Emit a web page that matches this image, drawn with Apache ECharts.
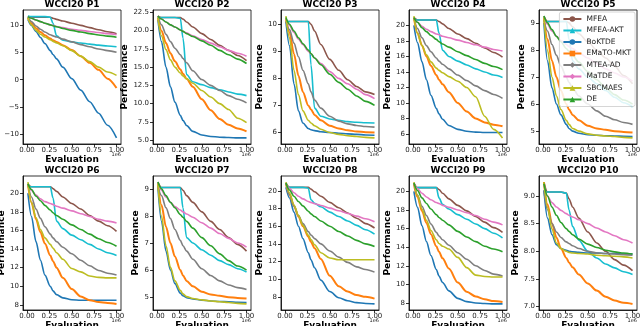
<!DOCTYPE html>
<html>
<head>
<meta charset="UTF-8">
<title>WCCI20</title>
<script src="https://cdn.jsdelivr.net/npm/echarts@6/dist/echarts.min.js"></script>
<style>
html, body { margin: 0; padding: 0; background: #fff; overflow: hidden; }
#main { width: 640px; height: 326px; }
</style>
</head>
<body>
<div id="main"></div>
<script>
// evaluation points (x 1e6)
var evals = [0.01, 0.05, 0.1, 0.15, 0.2, 0.26, 0.29, 0.33, 0.4, 0.5, 0.6, 0.7, 0.8, 0.9, 1.0];
var methods = ['MFEA', 'MFEA-AKT', 'BoKTDE', 'EMaTO-MKT', 'MTEA-AD', 'MaTDE', 'SBCMAES', 'DE'];
var titles = ['WCCI20 P1', 'WCCI20 P2', 'WCCI20 P3', 'WCCI20 P4', 'WCCI20 P5',
              'WCCI20 P6', 'WCCI20 P7', 'WCCI20 P8', 'WCCI20 P9', 'WCCI20 P10'];
var xTicks = [0, 0.25, 0.5, 0.75, 1.0];
var yTicks = [
  [-10, -5, 0, 5, 10],
  [5, 7.5, 10, 12.5, 15, 17.5, 20, 22.5],
  [6, 7, 8, 9, 10],
  [6, 8, 10, 12, 14, 16, 18, 20],
  [5, 6, 7, 8, 9],
  [8, 10, 12, 14, 16, 18, 20],
  [5, 6, 7, 8, 9],
  [8, 10, 12, 14, 16, 18, 20],
  [8, 10, 12, 14, 16, 18, 20],
  [7, 7.5, 8, 8.5, 9]
];

// rows follow the order of methods
var p1 = [
  [11.5, 11.4, 11.4, 11.4, 11.4, 11.4, 11.2, 11.0, 10.7, 10.3, 9.9, 9.5, 9.1, 8.75, 8.4],
  [11.6, 11.5, 11.5, 11.5, 11.5, 11.4, 10.3, 8.0, 7.2, 6.9, 6.7, 6.5, 6.3, 6.15, 6.0],
  [11.0, 9.9, 8.8, 7.7, 6.6, 5.3, 4.6, 3.8, 2.3, 0.2, -1.9, -4.0, -6.1, -8.3, -10.6],
  [11.3, 10.3, 9.4, 8.7, 8.1, 7.5, 7.2, 6.9, 6.3, 5.4, 4.3, 3.1, 1.8, 0.2, -1.5],
  [11.5, 10.6, 9.8, 9.2, 8.7, 8.2, 8.0, 7.8, 7.4, 6.9, 6.4, 6.0, 5.6, 5.3, 5.0],
  [11.5, 11.2, 10.9, 10.6, 10.3, 10.0, 9.9, 9.7, 9.5, 9.2, 9.0, 8.8, 8.6, 8.4, 8.2],
  [11.3, 10.0, 9.0, 8.3, 7.8, 7.3, 7.0, 6.7, 6.2, 5.3, 4.3, 3.3, 2.3, 1.4, 0.8],
  [11.5, 11.2, 10.9, 10.6, 10.3, 10.0, 9.85, 9.65, 9.35, 9.0, 8.7, 8.4, 8.15, 7.95, 7.75]
];
var p2 = [
  [22.0, 21.8, 21.8, 21.8, 21.8, 21.8, 21.6, 21.2, 20.5, 19.6, 18.8, 18.0, 17.3, 16.6, 15.9],
  [21.8, 21.8, 21.8, 21.8, 21.8, 21.7, 19.0, 14.0, 13.0, 12.6, 12.2, 11.9, 11.6, 11.3, 11.1],
  [21.5, 18.5, 15.0, 12.3, 10.2, 8.4, 7.7, 7.0, 6.2, 5.7, 5.5, 5.4, 5.35, 5.3, 5.3],
  [21.8, 20.0, 18.3, 16.9, 15.8, 14.7, 14.1, 13.4, 12.3, 10.6, 9.1, 7.9, 7.1, 6.6, 6.2],
  [22.0, 20.8, 19.5, 18.5, 17.6, 16.7, 16.2, 15.6, 14.5, 13.3, 12.5, 11.8, 11.1, 10.6, 10.1],
  [22.0, 21.6, 21.2, 20.8, 20.5, 20.1, 19.9, 19.7, 19.3, 18.8, 18.3, 17.8, 17.3, 16.9, 16.5],
  [21.8, 19.3, 17.4, 16.0, 15.0, 14.2, 13.8, 13.4, 12.8, 11.8, 10.9, 10.0, 9.2, 8.0, 7.4],
  [22.0, 21.6, 21.2, 20.8, 20.5, 20.1, 19.9, 19.6, 19.2, 18.6, 18.0, 17.3, 16.7, 16.1, 15.5]
];
var p3 = [
  [10.1, 10.1, 10.1, 10.1, 10.1, 10.1, 10.0, 9.75, 9.25, 8.7, 8.3, 7.95, 7.7, 7.5, 7.4],
  [10.1, 10.1, 10.1, 10.1, 10.1, 10.1, 8.5, 6.9, 6.6, 6.5, 6.45, 6.4, 6.38, 6.36, 6.35],
  [10.1, 9.2, 7.8, 6.8, 6.35, 6.15, 6.1, 6.07, 6.03, 6.0, 5.97, 5.95, 5.93, 5.91, 5.9],
  [10.2, 9.7, 8.9, 8.1, 7.5, 7.0, 6.85, 6.65, 6.45, 6.25, 6.15, 6.08, 6.04, 6.01, 6.0],
  [10.1, 9.8, 9.3, 8.8, 8.3, 7.8, 7.5, 7.2, 6.9, 6.6, 6.42, 6.32, 6.26, 6.22, 6.2],
  [10.2, 9.95, 9.7, 9.45, 9.25, 9.0, 8.9, 8.75, 8.55, 8.25, 8.0, 7.8, 7.6, 7.4, 7.25],
  [10.3, 9.5, 8.3, 7.4, 6.8, 6.45, 6.35, 6.25, 6.12, 6.0, 5.93, 5.88, 5.85, 5.82, 5.8],
  [10.25, 10.0, 9.75, 9.5, 9.28, 9.05, 8.92, 8.75, 8.5, 8.15, 7.85, 7.6, 7.35, 7.15, 7.0]
];
var p4 = [
  [21.0, 20.7, 20.7, 20.7, 20.7, 20.7, 20.5, 20.2, 19.6, 18.9, 18.3, 17.7, 17.1, 16.5, 15.9],
  [20.7, 20.7, 20.7, 20.7, 20.7, 20.7, 19.0, 16.8, 16.0, 15.4, 14.9, 14.4, 14.0, 13.6, 13.3],
  [20.0, 17.8, 15.3, 13.0, 11.0, 9.3, 8.6, 7.9, 7.1, 6.6, 6.35, 6.25, 6.2, 6.2, 6.2],
  [21.0, 19.0, 17.4, 16.0, 14.8, 13.6, 13.0, 12.4, 11.4, 10.0, 8.9, 8.0, 7.5, 7.2, 7.0],
  [21.0, 19.6, 18.4, 17.4, 16.6, 15.8, 15.4, 15.0, 14.4, 13.6, 12.9, 12.2, 11.6, 11.1, 10.6],
  [21.0, 20.4, 19.9, 19.5, 19.2, 18.9, 18.8, 18.6, 18.4, 18.1, 17.8, 17.5, 17.2, 16.9, 16.7],
  [21.2, 19.0, 17.4, 16.2, 15.3, 14.5, 14.2, 13.9, 13.4, 12.8, 12.0, 10.8, 8.3, 6.6, 5.5],
  [21.0, 20.4, 19.7, 19.2, 18.7, 18.2, 17.9, 17.6, 17.2, 16.6, 16.1, 15.6, 15.1, 14.7, 14.3]
];
var p5 = [
  [9.25, 9.05, 9.05, 9.05, 9.05, 9.05, 9.0, 8.85, 8.6, 8.3, 8.0, 7.7, 7.4, 7.05, 6.75],
  [9.05, 9.05, 9.05, 9.05, 9.05, 9.05, 8.4, 7.6, 7.3, 7.0, 6.75, 6.5, 6.25, 6.05, 5.9],
  [9.0, 7.6, 6.6, 6.0, 5.6, 5.25, 5.1, 5.0, 4.92, 4.87, 4.85, 4.83, 4.82, 4.81, 4.8],
  [9.2, 8.4, 7.6, 7.0, 6.5, 6.0, 5.8, 5.6, 5.4, 5.2, 5.1, 5.05, 5.0, 4.97, 4.95],
  [9.1, 8.7, 8.2, 7.8, 7.4, 7.0, 6.8, 6.6, 6.3, 6.0, 5.75, 5.55, 5.42, 5.32, 5.25],
  [9.2, 8.95, 8.7, 8.5, 8.35, 8.2, 8.12, 8.05, 7.9, 7.7, 7.5, 7.3, 7.15, 7.0, 6.85],
  [9.2, 8.0, 7.0, 6.3, 5.8, 5.4, 5.25, 5.1, 5.0, 4.9, 4.85, 4.82, 4.8, 4.77, 4.75],
  [9.25, 9.0, 8.75, 8.5, 8.3, 8.05, 7.95, 7.8, 7.55, 7.2, 6.9, 6.6, 6.35, 6.15, 6.0]
];
var p6 = [
  [21.0, 20.7, 20.7, 20.7, 20.7, 20.7, 20.5, 20.2, 19.6, 18.9, 18.3, 17.6, 17.0, 16.5, 15.9],
  [20.7, 20.7, 20.7, 20.7, 20.7, 20.7, 19.5, 17.0, 16.2, 15.5, 15.0, 14.5, 14.0, 13.6, 13.3],
  [20.0, 17.5, 14.8, 12.8, 11.2, 10.0, 9.5, 9.1, 8.75, 8.55, 8.5, 8.5, 8.5, 8.5, 8.5],
  [21.0, 19.0, 17.2, 15.8, 14.6, 13.3, 12.7, 12.0, 10.9, 9.7, 8.9, 8.5, 8.3, 8.2, 8.1],
  [21.0, 19.6, 18.3, 17.3, 16.4, 15.6, 15.2, 14.8, 14.2, 13.5, 12.8, 12.2, 11.7, 11.4, 11.2],
  [21.0, 20.3, 19.8, 19.4, 19.1, 18.9, 18.8, 18.6, 18.4, 18.1, 17.8, 17.5, 17.2, 17.0, 16.8],
  [21.2, 19.0, 17.4, 16.1, 15.2, 14.5, 14.1, 13.6, 12.9, 11.9, 11.55, 11.1, 10.95, 10.9, 10.9],
  [21.0, 20.4, 19.7, 19.2, 18.7, 18.2, 17.9, 17.6, 17.2, 16.6, 16.1, 15.6, 15.1, 14.7, 14.3]
];
var p7 = [
  [9.25, 9.05, 9.05, 9.05, 9.05, 9.05, 8.95, 8.75, 8.5, 8.15, 7.8, 7.5, 7.2, 6.95, 6.7],
  [9.05, 9.05, 9.05, 9.05, 9.05, 9.05, 8.3, 7.2, 7.0, 6.75, 6.55, 6.35, 6.2, 6.05, 5.93],
  [9.05, 7.8, 6.7, 6.0, 5.5, 5.15, 5.05, 4.98, 4.93, 4.89, 4.86, 4.84, 4.83, 4.81, 4.8],
  [9.2, 8.4, 7.6, 7.0, 6.5, 6.0, 5.8, 5.6, 5.4, 5.2, 5.1, 5.05, 5.0, 4.97, 4.95],
  [9.1, 8.75, 8.3, 7.9, 7.5, 7.1, 6.9, 6.7, 6.4, 6.05, 5.8, 5.6, 5.45, 5.35, 5.28],
  [9.2, 8.95, 8.7, 8.5, 8.35, 8.22, 8.15, 8.07, 7.95, 7.75, 7.55, 7.35, 7.17, 7.0, 6.85],
  [9.2, 8.0, 6.9, 6.1, 5.6, 5.25, 5.12, 5.02, 4.95, 4.9, 4.86, 4.83, 4.8, 4.77, 4.75],
  [9.25, 9.0, 8.75, 8.5, 8.3, 8.05, 7.95, 7.8, 7.55, 7.2, 6.9, 6.6, 6.35, 6.15, 6.0]
];
var p8 = [
  [20.9, 20.4, 20.4, 20.4, 20.4, 20.4, 20.2, 19.9, 19.4, 18.7, 18.1, 17.5, 16.9, 16.3, 15.8],
  [20.4, 20.4, 20.4, 20.4, 20.4, 20.3, 19.0, 18.6, 18.2, 17.6, 17.1, 16.6, 16.1, 15.6, 15.1],
  [20.4, 19.2, 17.6, 16.0, 14.6, 13.0, 12.2, 11.3, 9.9, 8.6, 7.9, 7.55, 7.35, 7.25, 7.2],
  [20.8, 19.6, 18.3, 17.1, 16.0, 14.8, 14.2, 13.5, 12.3, 10.4, 9.2, 8.6, 8.2, 8.0, 7.8],
  [20.9, 19.6, 18.3, 17.2, 16.3, 15.4, 15.0, 14.6, 14.0, 13.2, 12.5, 11.9, 11.4, 11.1, 10.8],
  [20.9, 20.3, 19.8, 19.4, 19.1, 18.8, 18.7, 18.55, 18.35, 18.05, 17.75, 17.45, 17.15, 16.85, 16.5],
  [21.0, 19.8, 18.4, 17.2, 16.1, 15.0, 14.5, 13.9, 13.0, 12.4, 12.2, 12.2, 12.2, 12.2, 12.2],
  [20.9, 20.1, 19.4, 18.8, 18.3, 17.7, 17.4, 17.1, 16.6, 16.0, 15.4, 14.9, 14.4, 14.0, 13.7]
];
var p9 = [
  [20.9, 20.4, 20.4, 20.4, 20.4, 20.4, 20.2, 19.8, 19.2, 18.5, 17.9, 17.3, 16.7, 16.1, 15.6],
  [20.4, 20.4, 20.4, 20.4, 20.4, 20.4, 19.3, 18.6, 18.1, 17.5, 17.0, 16.5, 16.0, 15.5, 15.0],
  [20.0, 18.3, 16.3, 14.6, 13.1, 11.6, 10.9, 10.2, 9.3, 8.5, 8.15, 8.0, 7.95, 7.9, 7.9],
  [20.8, 19.4, 17.9, 16.6, 15.4, 14.1, 13.5, 12.8, 11.7, 10.2, 9.2, 8.7, 8.4, 8.2, 8.1],
  [20.9, 19.6, 18.4, 17.4, 16.5, 15.6, 15.2, 14.8, 14.2, 13.4, 12.7, 12.0, 11.5, 11.1, 10.9],
  [20.9, 20.3, 19.8, 19.4, 19.1, 18.8, 18.7, 18.5, 18.3, 18.0, 17.7, 17.4, 17.0, 16.7, 16.4],
  [21.0, 19.6, 18.1, 16.9, 15.8, 14.8, 14.4, 14.1, 13.8, 12.9, 11.8, 11.0, 10.85, 10.8, 10.8],
  [20.9, 20.1, 19.3, 18.7, 18.1, 17.5, 17.2, 16.9, 16.4, 15.7, 15.1, 14.6, 14.1, 13.8, 13.5]
];
var p10 = [
  [9.25, 9.07, 9.07, 9.07, 9.07, 9.05, 8.95, 8.8, 8.6, 8.35, 8.15, 8.0, 7.85, 7.75, 7.65],
  [9.07, 9.07, 9.07, 9.07, 9.07, 9.05, 8.75, 8.45, 8.2, 8.0, 7.88, 7.77, 7.7, 7.63, 7.58],
  [9.1, 8.6, 8.3, 8.12, 8.05, 8.02, 8.0, 7.99, 7.98, 7.97, 7.97, 7.96, 7.96, 7.95, 7.95],
  [9.25, 8.85, 8.5, 8.25, 8.05, 7.88, 7.8, 7.71, 7.58, 7.42, 7.29, 7.18, 7.11, 7.07, 7.05],
  [9.1, 8.75, 8.5, 8.35, 8.25, 8.17, 8.14, 8.1, 8.05, 8.0, 7.97, 7.96, 7.95, 7.94, 7.93],
  [9.2, 9.0, 8.88, 8.8, 8.74, 8.68, 8.65, 8.62, 8.57, 8.5, 8.42, 8.35, 8.28, 8.21, 8.15],
  [9.25, 8.8, 8.4, 8.15, 8.05, 8.0, 7.98, 7.97, 7.96, 7.95, 7.93, 7.92, 7.91, 7.9, 7.88],
  [9.22, 9.0, 8.8, 8.65, 8.52, 8.41, 8.36, 8.3, 8.22, 8.13, 8.07, 8.02, 7.99, 7.97, 7.95]
];
var panels = [p1, p2, p3, p4, p5, p6, p7, p8, p9, p10];

var colors = ['#8c564b', '#17becf', '#1f77b4', '#ff7f0e', '#7f7f7f', '#e377c2', '#bcbd22', '#2ca02c'];
var symbols = ['circle', 'triangle', 'circle', 'rect', 'diamond', 'diamond', 'triangle', 'triangle'];

// layout of the 2 x 5 panels
var lefts = [23, 153, 281, 409, 539];
var tops = [10, 176];
var W = 98, H = 134;
var nameGaps = [14, 17, 11, 11, 7, 12, 6, 12, 11, 13];
var decimals = [0, 1, 0, 0, 0, 0, 0, 0, 0, 1];
var font = 'DejaVu Sans';

var chart = echarts.init(document.getElementById('main'));

var grids = [], xAxes = [], yAxes = [], series = [], graphics = [];
panels.forEach(function (panel, i) {
  var left = lefts[i % 5], top = tops[Math.floor(i / 5)];
  grids.push({ left: left, top: top, width: W, height: H, show: true,
    borderColor: '#000', borderWidth: 0.8, outerBoundsMode: 'none' });
  xAxes.push({
    type: 'value', gridIndex: i, min: -0.045, max: 1.05,
    axisLine: { show: true, onZero: false, lineStyle: { color: '#000', width: 0.8 } },
    axisTick: { show: true, length: 3, customValues: xTicks, lineStyle: { color: '#000', width: 0.8 } },
    axisLabel: { customValues: xTicks, margin: 3, fontSize: 7, color: '#222', fontFamily: font,
      formatter: function (v) { return v.toFixed(2); } },
    splitLine: { show: false },
    name: 'Evaluation', nameLocation: 'middle', nameGap: 9,
    nameTextStyle: { fontSize: 9, fontWeight: 'bold', color: '#000', fontFamily: font,
      verticalAlign: 'top' }
  });
  yAxes.push({
    type: 'value', gridIndex: i,
    min: function (v) { return v.min - 0.05 * (v.max - v.min); },
    max: function (v) { return v.max + 0.05 * (v.max - v.min); },
    axisLine: { show: true, onZero: false, lineStyle: { color: '#000', width: 0.8 } },
    axisTick: { show: true, length: 3, customValues: yTicks[i], lineStyle: { color: '#000', width: 0.8 } },
    axisLabel: { customValues: yTicks[i], margin: 4, fontSize: 7, color: '#222', fontFamily: font,
      formatter: function (v) { return v.toFixed(decimals[i]).replace('-', '\u2212'); } },
    splitLine: { show: false },
    name: 'Performance', nameLocation: 'middle', nameGap: nameGaps[i],
    nameTextStyle: { fontSize: 9, fontWeight: 'bold', color: '#000', fontFamily: font }
  });
  panel.forEach(function (vals, j) {
    series.push({
      type: 'line', name: methods[j], xAxisIndex: i, yAxisIndex: i,
      data: evals.map(function (x, k) { return [x, vals[k]]; }),
      showSymbol: false, symbol: symbols[j], symbolSize: 4,
      smooth: 0.3, smoothMonotone: 'x',
      lineStyle: { color: colors[j], width: j === 3 ? 2 : 1.6 },
      itemStyle: { color: colors[j] },
      emphasis: { disabled: true }
    });
  });
  graphics.push({ type: 'text', x: left + W / 2, y: top - 5,
    style: { text: titles[i], font: 'bold 9px ' + font, fill: '#000', align: 'center', verticalAlign: 'middle' } });
  graphics.push({ type: 'text', x: left + W, y: top + H + 11,
    style: { text: '1e6', font: '5px ' + font, fill: '#222', align: 'right', verticalAlign: 'middle' } });
});

var option = {
  animation: false,
  grid: grids,
  xAxis: xAxes,
  yAxis: yAxes,
  series: series,
  graphic: graphics,
  legend: {
    data: methods, orient: 'vertical', right: 5, top: 12,
    itemWidth: 18, itemHeight: 7, itemGap: 3.5,
    textStyle: { fontSize: 7.5, color: '#222', fontFamily: font },
    backgroundColor: 'rgba(255,255,255,0.85)', borderColor: '#ccc', borderWidth: 0.8,
    borderRadius: 2, padding: [3, 4, 3, 3]
  }
};
chart.setOption(option);
</script>
</body>
</html>
